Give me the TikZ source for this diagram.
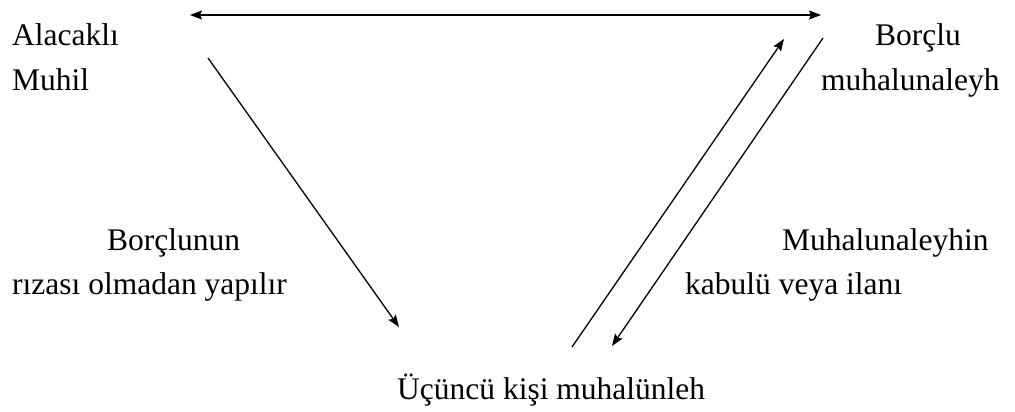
\documentclass[tikz,border=0pt]{standalone}
\usepackage{fontspec}
\setmainfont{Liberation Serif}
\usetikzlibrary{arrows.meta}
\tikzset{
  lbl/.style={inner sep=0pt, anchor=base west, font=\fontsize{31.5}{38}\selectfont},
  arr/.style={line width=1.3pt, -{Stealth[length=12pt,width=9pt,inset=2pt]}},
  arrboth/.style={line width=1.3pt, {Stealth[length=12pt,width=9pt,inset=2pt]}-{Stealth[length=12pt,width=9pt,inset=2pt]}},
}

\begin{document}
\begin{tikzpicture}[x=1pt,y=-1pt]
		%%%%% START %%%%%
		\useasboundingbox (0,0) rectangle (1015,412);
		
		% taraflar
		\node[lbl] (alacakli) at (12, 46) {Alacaklı};
		\node[lbl] (muhil) at (12, 90) {Muhil};
		\node[lbl] (borclu) at (875, 46) {Borçlu};
		\node[lbl] (muhalunaleyh) at (821, 90) {muhalunaleyh};
		\node[lbl] (ucuncu) at (397, 399) {Üçüncü kişi muhalünleh};
		
		% aciklamalar
		\node[lbl] (borclunun) at (107, 250) {Borçlunun};
		\node[lbl] (rizasi) at (12, 294) {rızası olmadan yapılır};
		\node[lbl] (muhalunaleyhin) at (782, 250) {Muhalunaleyhin};
		\node[lbl] (kabulu) at (685, 294) {kabulü veya ilanı};
		
		% ok uclari
		\coordinate (ustsol) at (190, 15);
		\coordinate (ustsag) at (821, 15);
		\coordinate (solbas) at (208, 58);
		\coordinate (solson) at (399, 327);
		\coordinate (yukbas) at (572, 347);
		\coordinate (yukson) at (784, 39);
		\coordinate (asbas) at (823, 38);
		\coordinate (asson) at (612, 346);
		
		\draw[arrboth] (ustsol) -- (ustsag);
		\draw[arr] (solbas) -- (solson);
		\draw[arr] (yukbas) -- (yukson);
		\draw[arr] (asbas) -- (asson);
		%%%%% END %%%%%
\end{tikzpicture}
\end{document}
